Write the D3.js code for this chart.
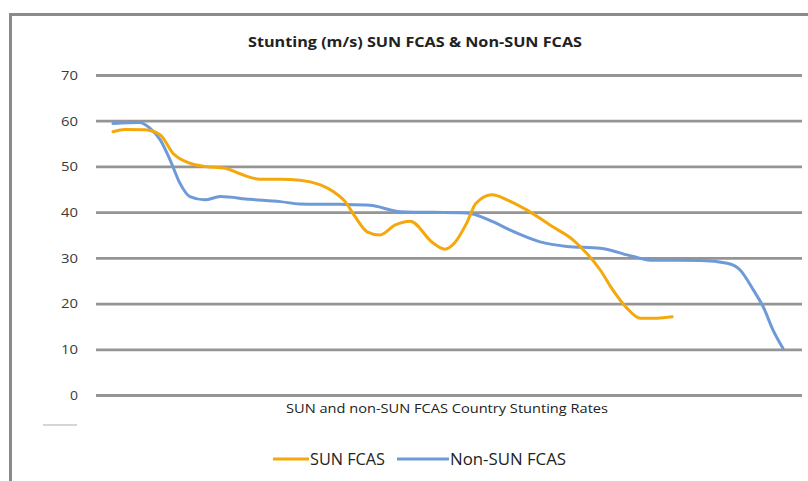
<!DOCTYPE html>
<html>
<head>
<meta charset="utf-8">
<script src="https://cdn.jsdelivr.net/npm/d3@7"></script>
<style>
  body { margin: 0; background: #fff; }
  svg text { font-family: "Open Sans", "Noto Sans", sans-serif; }
</style>
</head>
<body>
<div id="chart"></div>
<script>
// country position along the x axis (0-100) and stunting rate (%)
const sunX = [2.4, 4.1, 6.9, 9.1, 10.9, 13.3, 15.4, 18.3, 20.4, 23.2, 26.1, 28.9, 31.7, 33.6, 35.3, 36.7, 38.4, 40.2, 42.4, 44.5, 47.7, 49.4, 50.8, 52.5, 53.8, 56.1, 58.2, 61.0, 64.7, 67.6, 69.5, 71.4, 73.2, 75.2, 77.1, 79.5, 81.6];
const sunValues = [57.6, 58.1, 58.0, 56.9, 52.9, 50.7, 50.0, 49.6, 48.4, 47.2, 47.2, 47.0, 46.0, 44.5, 42.3, 39.0, 35.7, 35.0, 37.2, 38.0, 33.3, 31.9, 33.3, 37.6, 41.9, 43.8, 42.7, 40.5, 36.8, 33.9, 31.0, 27.4, 23.0, 19.0, 16.8, 16.8, 17.1];
const nonSunX = [2.4, 6.2, 7.6, 9.1, 10.5, 11.9, 13.3, 15.4, 17.6, 21.8, 26.1, 28.9, 34.6, 38.8, 43.1, 52.5, 56.2, 58.6, 62.9, 66.7, 71.4, 76.1, 78.5, 85.6, 89.4, 91.2, 93.1, 94.5, 95.9, 97.3];
const nonSunValues = [59.4, 59.6, 58.4, 55.8, 51.4, 46.3, 43.4, 42.7, 43.4, 42.8, 42.3, 41.8, 41.7, 41.5, 40.1, 39.8, 37.9, 36.1, 33.5, 32.5, 32.1, 30.3, 29.5, 29.4, 28.8, 27.4, 23.0, 19.3, 14.2, 10.2];
const yTicks = [0, 10, 20, 30, 40, 50, 60, 70];
const seriesNames = ["SUN FCAS", "Non-SUN FCAS"];
const seriesColors = ["#f4a80c", "#6f9ad8"];

const W = 808, H = 481;
const margin = {top: 75, right: 6, bottom: 86, left: 96};

const svg = d3.select("#chart").append("svg")
  .attr("width", W).attr("height", H);

// outer frame (only top and left edges are visible in the crop)
svg.append("path")
  .attr("d", `M10.5,${H} V14.5 H${W}`)
  .attr("fill", "none").attr("stroke", "#8a8a8a").attr("stroke-width", 3);

const x = d3.scaleLinear().domain([0, 100]).range([margin.left, W - margin.right]);
const y = d3.scaleLinear().domain([0, 70]).range([H - margin.bottom, margin.top]);

// gridlines + tick labels
const yAxis = d3.axisLeft(y).tickValues(yTicks)
  .tickSize(-(W - margin.left - margin.right)).tickPadding(18);
const gy = svg.append("g").attr("transform", `translate(${margin.left},0)`).call(yAxis);
gy.select(".domain").remove();
gy.selectAll(".tick line").attr("stroke", "#959595").attr("stroke-width", 2.8);
gy.selectAll(".tick text").attr("fill", "#3a3a3a").style("font-size", "13.5px")
  .attr("textLength", 17).attr("lengthAdjust", "spacingAndGlyphs");
gy.selectAll(".tick text").filter(d => d === 0).attr("textLength", 8);

svg.append("text")
  .attr("x", 415).attr("y", 47).attr("text-anchor", "middle")
  .attr("fill", "#222").style("font-size", "15px").style("font-weight", "bold")
  .attr("textLength", 334).attr("lengthAdjust", "spacingAndGlyphs")
  .text("Stunting (m/s) SUN FCAS & Non-SUN FCAS");

svg.append("text")
  .attr("x", 447).attr("y", 413).attr("text-anchor", "middle")
  .attr("fill", "#222").style("font-size", "13.5px")
  .attr("textLength", 322).attr("lengthAdjust", "spacingAndGlyphs")
  .text("SUN and non-SUN FCAS Country Stunting Rates");

// little stray dash under the axis
svg.append("line").attr("x1", 43).attr("x2", 77).attr("y1", 425).attr("y2", 425)
  .attr("stroke", "#c8c8c8").attr("stroke-width", 1.5);

const line = d3.line()
  .x(d => x(d[0])).y(d => y(d[1]))
  .curve(d3.curveMonotoneX);

const series = [
  d3.zip(sunX, sunValues),
  d3.zip(nonSunX, nonSunValues)
];

// blue first so that orange lies on top where they cross
[1, 0].forEach(i => {
  svg.append("path")
    .datum(series[i])
    .attr("d", line)
    .attr("fill", "none")
    .attr("stroke", seriesColors[i])
    .attr("stroke-width", 3)
    .attr("stroke-linejoin", "round").attr("stroke-linecap", "round");
});

// legend
const legendPos = [{x0: 273, x1: 309, tx: 310, tl: 75}, {x0: 397, x1: 449, tx: 450, tl: 116}];
legendPos.forEach((p, i) => {
  svg.append("line")
    .attr("x1", p.x0).attr("x2", p.x1).attr("y1", 459).attr("y2", 459)
    .attr("stroke", seriesColors[i]).attr("stroke-width", 3);
  svg.append("text")
    .attr("x", p.tx).attr("y", 465)
    .attr("fill", "#222").style("font-size", "15.5px")
    .attr("textLength", p.tl).attr("lengthAdjust", "spacingAndGlyphs")
    .text(seriesNames[i]);
});
</script>
</body>
</html>
